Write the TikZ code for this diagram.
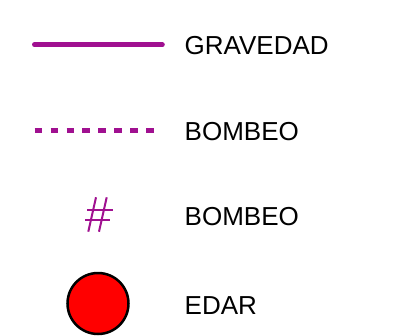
\documentclass[tikz,border=0pt]{standalone}
\usepackage{fontspec}
\setmainfont{Liberation Sans}
\definecolor{purp}{RGB}{160,16,144}
\begin{document}
\begin{tikzpicture}[x=1pt,y=-1pt,
  lbl/.style={anchor=base west,inner sep=0pt,font=\fontsize{26}{26}\selectfont},
  hashline/.style={draw=purp,line width=2pt}]
\useasboundingbox (0,0) rectangle (399,335);
\coordinate (s1) at (34.3,44.7);
\coordinate (s2) at (162.5,44.7);
\draw[purp,line width=4.5pt,line cap=round] (s1) -- (s2);
\coordinate (d1) at (34.7,130.8);
\coordinate (d2) at (154.5,130.8);
\draw[purp,line width=5pt,dash pattern=on 7.5pt off 8.4pt] (d1) -- (d2);
% hash
\draw[hashline] (96,197.3) -- (88.3,231.7);
\draw[hashline] (106.7,197.3) -- (99,231.7);
\draw[hashline] (87.3,209.5) -- (112.7,209.5);
\draw[hashline] (85,219.5) -- (110.4,219.5);
\node[circle,draw=black,fill=red,line width=2.5pt,minimum size=61pt,inner sep=0pt] (edar) at (98,303.5) {};
\node[lbl] (t1) at (184.5,54) {GRAVEDAD};
\node[lbl] (t2) at (184.5,140.5) {BOMBEO};
\node[lbl] (t3) at (184.5,225.7) {BOMBEO};
\node[lbl] (t4) at (184.5,314) {EDAR};
\end{tikzpicture}
\end{document}
